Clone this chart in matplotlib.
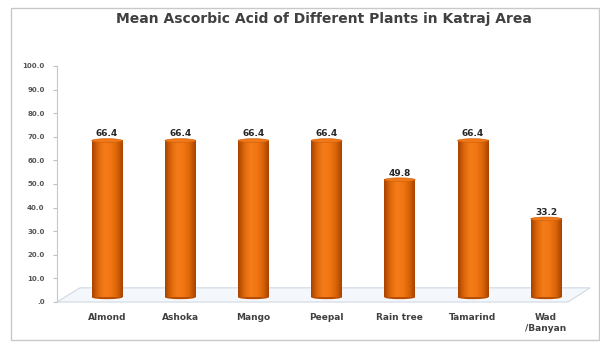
import matplotlib.pyplot as plt
import numpy as np
from matplotlib.patches import Ellipse, Rectangle, Polygon
from matplotlib.colors import LinearSegmentedColormap

plants = ['Almond', 'Ashoka', 'Mango', 'Peepal', 'Rain tree', 'Tamarind', 'Wad\n/Banyan']
ascorbic = [66.4, 66.4, 66.4, 66.4, 49.8, 66.4, 33.2]
yticks = [0, 10, 20, 30, 40, 50, 60, 70, 80, 90, 100]
ylabels = ['.0'] + ['%.1f' % t for t in yticks[1:]]

fig = plt.figure(figsize=(6, 3.43), dpi=100)
fig.patch.set_facecolor('white')
# outer chart border
fig.patches.append(Rectangle((11/600, 3/343), 588/600, 332/343, transform=fig.transFigure,
                             fill=False, edgecolor='#c8c8c8', lw=1))

ax = fig.add_axes([57/600, 41/343, 533/600, 236/343])
ax.set_xlim(-0.685, 6.6)
ax.set_ylim(0, 100)

cyl = LinearSegmentedColormap.from_list('cyl', ['#a84300', '#de680a', '#f57c1a', '#f27614', '#dc6608', '#a84300'])
grad = np.linspace(0, 1, 64).reshape(1, -1)
w = 0.42
base = 2.0  # depth offset of the 3D floor
eh = 1.6

for i, v in enumerate(ascorbic):
    ax.imshow(grad, cmap=cyl, extent=[i - w/2, i + w/2, base, base + v],
              aspect='auto', zorder=3, interpolation='bilinear')
    ax.add_patch(Ellipse((i, base), w, eh, facecolor='#b84e04', edgecolor='none', zorder=2.9))
    ax.add_patch(Ellipse((i, base + v), w, eh, facecolor='#f07818', edgecolor='#cc6008', lw=0.4, zorder=4))
    ax.text(i, base + v + 0.9, '%.1f' % v, ha='center', va='bottom', fontsize=6.5,
            fontweight='bold', color='#262626', zorder=5)

# 3D floor
floor = Polygon([(-0.685, 0), (6.3, 0), (6.6, 6), (-0.37, 6)], closed=True,
                facecolor='#f4f8fc', edgecolor='#cfd8e3', lw=0.8, zorder=1, clip_on=False)
ax.add_patch(floor)

ax.set_xticks(range(len(plants)))
ax.set_xticklabels(plants, fontsize=6.5, fontweight='bold', color='#404040', linespacing=1.3)
ax.tick_params(axis='x', length=0, pad=8)
ax.set_yticks(yticks)
ax.set_yticklabels(ylabels, fontsize=5, fontweight='bold', color='#555555')
ax.tick_params(axis='y', length=3, color='#bfbfbf', pad=6)
for s in ['top', 'right', 'bottom']:
    ax.spines[s].set_visible(False)
ax.spines['left'].set_color('#c8c8c8')

fig.text(0.54, 0.945, 'Mean Ascorbic Acid of Different Plants in Katraj Area',
         ha='center', va='center', fontsize=10, fontweight='bold', color='#404040')

plt.savefig('out.png', dpi=100)
